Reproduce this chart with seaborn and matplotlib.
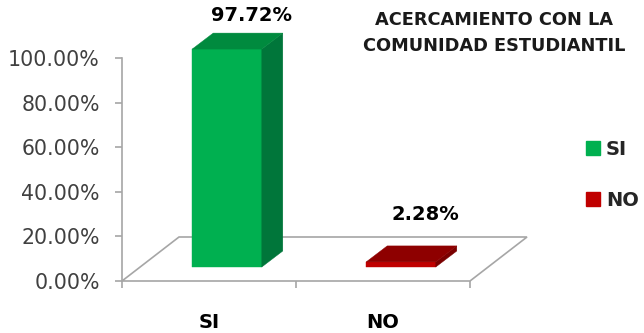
import numpy as np
import pandas as pd
import seaborn as sns
import matplotlib
matplotlib.use("Agg")
import matplotlib.pyplot as plt
from matplotlib.patches import Polygon, Patch
from matplotlib.transforms import IdentityTransform

# ---- data ----
categories = ["SI", "NO"]
values = [97.72, 2.28]
value_labels = ["97.72%", "2.28%"]
yticks = [0, 20, 40, 60, 80, 100]
ytick_labels = ["0.00%", "20.00%", "40.00%", "60.00%", "80.00%", "100.00%"]
title = "ACERCAMIENTO CON LA\nCOMUNIDAD ESTUDIANTIL"

# ---- style ----
front_colors = ["#00B050", "#C00000"]
top_colors = ["#008A3E", "#8E0000"]
side_colors = ["#00763A", "#7A0000"]
FLOOR_DEPTH = (57, 44)      # pixels (right, up)
BAR_SHIFT = (18, 14)        # where bar front sits inside the floor
BAR_DEPTH = (21, 16)
LABEL_LIFT = [18, 31]       # pixels above the back-top edge
GRAY = "#A6A6A6"

sns.set_theme(style="white")
plt.rcParams["font.family"] = ["DejaVu Sans"]

W, H = 644, 333
fig = plt.figure(figsize=(W / 100, H / 100), dpi=100)
ax = fig.add_axes([122 / W, (H - 281) / H, (470 - 122) / W, (281 - 58) / H])

df = pd.DataFrame({"cat": categories, "val": values})
sns.barplot(data=df, x="cat", y="val", hue="cat", palette=front_colors,
            width=0.4, legend=False, ax=ax, saturation=1, linewidth=0)
ax.set_xlim(-0.5, 1.5)
ax.set_ylim(0, 100)

fig.canvas.draw()
to_px = ax.transData.transform

# floor
fl = to_px([(-0.5, 0), (1.5, 0)])
floor = np.array([fl[0], fl[1], fl[1] + FLOOR_DEPTH, fl[0] + FLOOR_DEPTH])
fig.add_artist(Polygon(floor, closed=True, fill=False, edgecolor=GRAY, lw=1.2,
                       transform=IdentityTransform(), zorder=1))

# 3D bars built from seaborn bar geometry
for i, p in enumerate(list(ax.patches)):
    x0, w, h = p.get_x(), p.get_width(), p.get_height()
    fb = to_px([(x0, 0), (x0 + w, 0), (x0 + w, h), (x0, h)]) + BAR_SHIFT
    p.set_visible(False)
    d = np.array(BAR_DEPTH)
    front = fb
    side = np.array([fb[1], fb[1] + d, fb[2] + d, fb[2]])
    top = np.array([fb[3], fb[2], fb[2] + d, fb[3] + d])
    for poly, col in ((front, front_colors[i]), (side, side_colors[i]), (top, top_colors[i])):
        fig.add_artist(Polygon(poly, closed=True, facecolor=col, edgecolor=col, lw=0.3,
                               transform=IdentityTransform(), zorder=3))
    cx = (fb[3][0] + fb[2][0]) / 2 + d[0] + 3
    cy = fb[3][1] + d[1] + LABEL_LIFT[i]
    fig.text(cx / W, cy / H, value_labels[i], ha="center", va="center",
             fontsize=14, fontweight="bold", color="black")

# axes styling
for s in ["top", "right", "bottom"]:
    ax.spines[s].set_visible(False)
ax.spines["left"].set_color(GRAY)
ax.spines["left"].set_linewidth(1.2)
ax.set_yticks(yticks)
ax.set_yticklabels(ytick_labels)
ax.tick_params(axis="y", left=True, length=5, width=1.2, color=GRAY, pad=11,
               labelsize=14.8, labelcolor="#404040")
ax.set_xticks(range(len(categories)))
ax.set_xticklabels(categories, fontweight="bold", fontsize=14)
ax.tick_params(axis="x", which="major", length=0, pad=23, labelcolor="black")
ax.set_xticks([-0.5, 0.5, 1.5], minor=True)
ax.tick_params(axis="x", which="minor", bottom=True, length=5, width=1.2, color=GRAY)
ax.set_xlabel("")
ax.set_ylabel("")
ax.patch.set_visible(False)

fig.text(494 / W, 1 - 33 / H, title, ha="center", va="center", fontsize=12.8,
         fontweight="bold", color="#1A1A1A", linespacing=1.55)

handles = [Patch(facecolor=c, edgecolor=c) for c in front_colors]
fig.legend(handles, categories, loc="upper left", bbox_to_anchor=(586 / W, 1 - 140 / H),
           frameon=False, borderpad=0, borderaxespad=0, handlelength=0.72,
           handleheight=0.72, handletextpad=0.3, labelspacing=1.65,
           prop={"weight": "bold", "size": 14})

fig.savefig("out.png", dpi=100)
